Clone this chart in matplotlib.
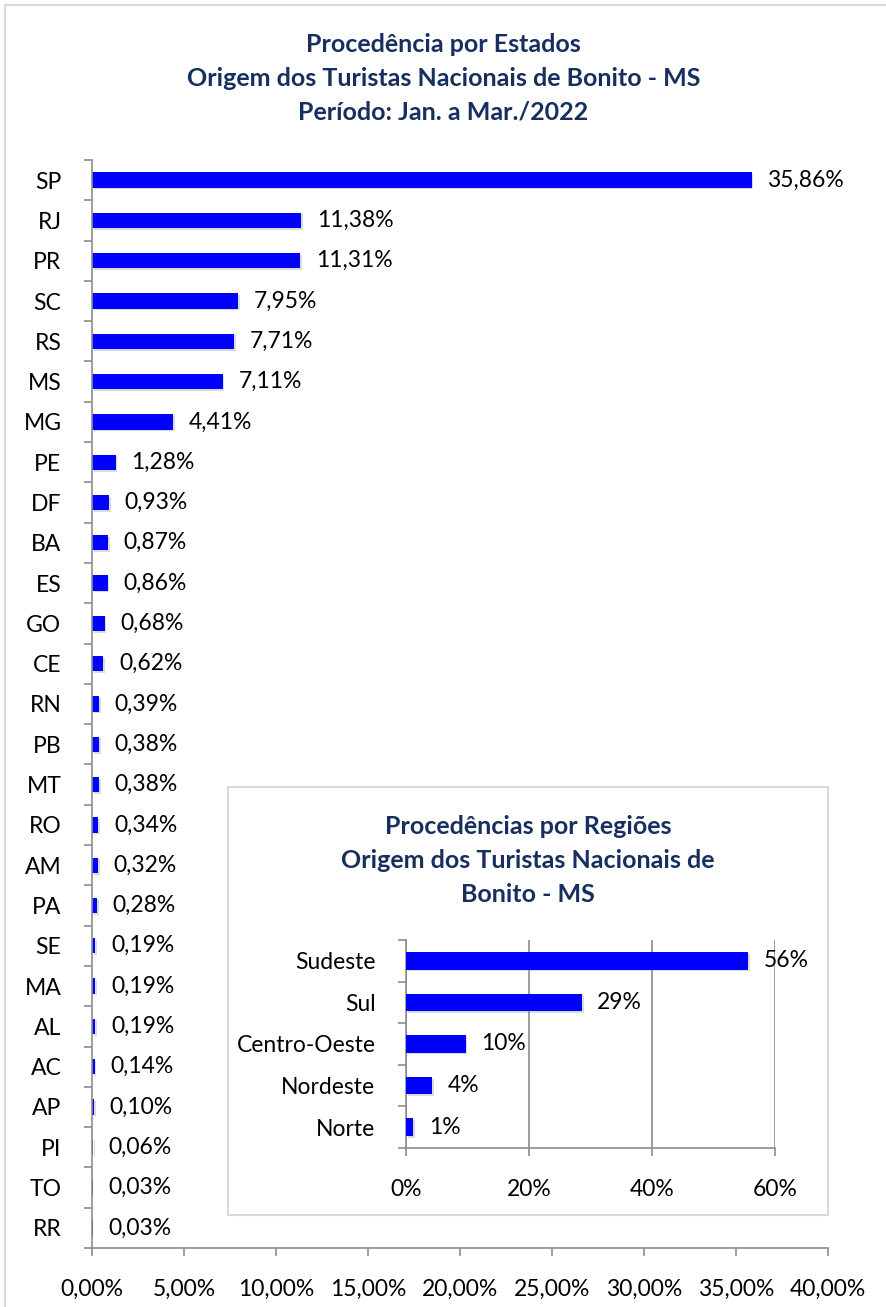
import matplotlib.pyplot as plt
import matplotlib.patheffects as pe
from matplotlib.patches import Rectangle
from matplotlib.ticker import FixedLocator

plt.rcParams["font.family"] = ["Lato", "DejaVu Sans"]

states = ["SP", "RJ", "PR", "SC", "RS", "MS", "MG", "PE", "DF", "BA", "ES", "GO", "CE",
          "RN", "PB", "MT", "RO", "AM", "PA", "SE", "MA", "AL", "AC", "AP", "PI", "TO", "RR"]
state_pct = [35.86, 11.38, 11.31, 7.95, 7.71, 7.11, 4.41, 1.28, 0.93, 0.87, 0.86, 0.68, 0.62,
             0.39, 0.38, 0.38, 0.34, 0.32, 0.28, 0.19, 0.19, 0.19, 0.14, 0.10, 0.06, 0.03, 0.03]
main_xticks = [0, 5, 10, 15, 20, 25, 30, 35, 40]

regions = ["Sudeste", "Sul", "Centro-Oeste", "Nordeste", "Norte"]
region_pct = [55.6, 28.6, 9.7, 4.3, 1.2]
inset_xticks = [0, 20, 40, 60]

NAVY = "#172F5F"
BLUE = "#0000FF"
AXIS = "#8C8C8C"
FS = 16.5
TFS = 18
shadow = [pe.SimplePatchShadow(offset=(1.2, -1.2), shadow_rgbFace="#888888", alpha=0.3), pe.Normal()]

fig = plt.figure(figsize=(8.87, 13.07), dpi=100)
fig.patches.append(Rectangle((5 / 887, -0.1), 1.2, 1.1 - 5 / 1307, transform=fig.transFigure,
                             fill=False, edgecolor="#D9D9D9", linewidth=1.5))

title_lines = ["Procedência por Estados", "Origem dos Turistas Nacionais de Bonito - MS",
               "Período: Jan. a Mar./2022"]
for i, line in enumerate(title_lines):
    fig.text(0.5, 1 - (44 + i * 34) / 1307, line, ha="center", va="center",
             fontsize=TFS, fontweight="bold", color=NAVY)

# main chart
ax = fig.add_axes([92 / 887, 1 - 1248 / 1307, (828 - 92) / 887, (1248 - 160) / 1307])
y = list(range(len(states)))
ax.barh(y, state_pct, height=0.38, color=BLUE, path_effects=shadow)
for yi, v in zip(y, state_pct):
    ax.text(v + 0.85, yi, f"{v:.2f}%".replace(".", ","), va="center", ha="left", fontsize=FS)
ax.set_ylim(len(states) - 0.5, -0.5)
ax.set_xlim(0, 40)
ax.set_yticks(y, states)
ax.yaxis.set_minor_locator(FixedLocator([i - 0.5 for i in range(len(states) + 1)]))
ax.tick_params(axis="y", which="major", length=0, pad=22, labelsize=FS)
ax.tick_params(axis="y", which="minor", length=6, color=AXIS, width=1.2)
ax.set_xticks(main_xticks, [f"{t:.2f}%".replace(".", ",") for t in main_xticks])
ax.tick_params(axis="x", length=6, color=AXIS, width=1.2, pad=16, labelsize=FS)
for s in ["top", "right"]:
    ax.spines[s].set_visible(False)
for s in ["left", "bottom"]:
    ax.spines[s].set_color(AXIS)
    ax.spines[s].set_linewidth(1.2)

# inset box
fig.patches.append(Rectangle((228 / 887, 1 - 1215 / 1307), 600 / 887, 428 / 1307,
                             transform=fig.transFigure, facecolor="white",
                             edgecolor="#D9D9D9", linewidth=1.5, zorder=2))
inset_lines = ["Procedências por Regiões", "Origem dos Turistas Nacionais de", "Bonito - MS"]
for i, line in enumerate(inset_lines):
    fig.text(528 / 887, 1 - (827 + i * 33.5) / 1307, line, ha="center", va="center",
             fontsize=TFS, fontweight="bold", color=NAVY, zorder=3)

ax2 = fig.add_axes([406 / 887, 1 - 1148 / 1307, (775 - 406) / 887, (1148 - 940) / 1307])
ax2.set_zorder(3)
ax2.patch.set_visible(False)
yr = list(range(len(regions)))
ax2.barh(yr, region_pct, height=0.42, color=BLUE, path_effects=shadow, zorder=3)
for yi, v in zip(yr, region_pct):
    ax2.text(v + 2.5, yi, f"{v:.0f}%", va="center", ha="left", fontsize=FS, zorder=4)
ax2.set_ylim(len(regions) - 0.5, -0.5)
ax2.set_xlim(0, 60)
ax2.set_yticks(yr, regions)
ax2.yaxis.set_minor_locator(FixedLocator([i - 0.5 for i in range(len(regions) + 1)]))
ax2.tick_params(axis="y", which="major", length=0, pad=22, labelsize=FS)
ax2.tick_params(axis="y", which="minor", length=6, color=AXIS, width=1.2)
ax2.set_xticks(inset_xticks, [f"{t}%" for t in inset_xticks])
ax2.tick_params(axis="x", length=6, color=AXIS, width=1.2, pad=16, labelsize=FS)
ax2.grid(axis="x", color=AXIS, linewidth=1.2, zorder=1)
ax2.set_axisbelow(True)
for s in ["top", "right"]:
    ax2.spines[s].set_visible(False)
for s in ["left", "bottom"]:
    ax2.spines[s].set_color(AXIS)
    ax2.spines[s].set_linewidth(1.2)

fig.savefig("out.png", dpi=100)
